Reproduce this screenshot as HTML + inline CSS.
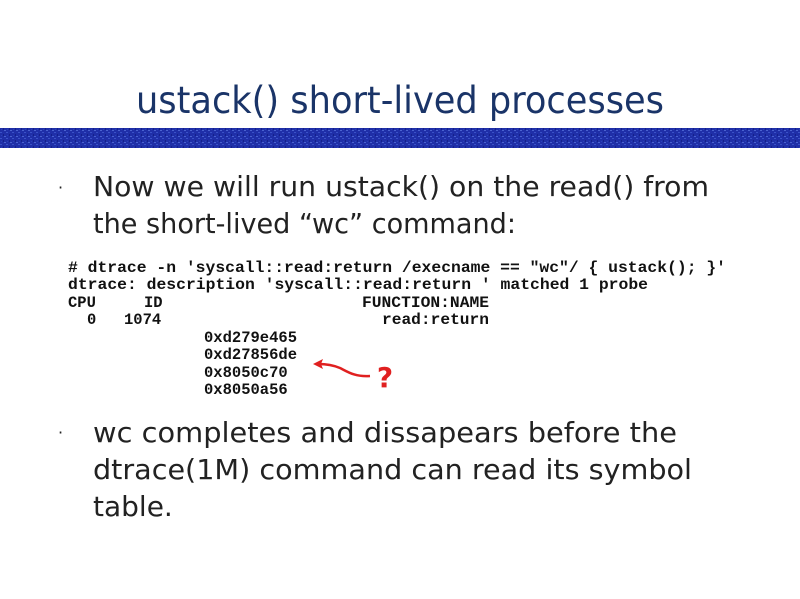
<!DOCTYPE html>
<html><head><meta charset="utf-8"><style>
html,body{margin:0;padding:0;background:#fff;width:800px;height:599px;overflow:hidden}
</style></head><body>
<svg width="800" height="599" viewBox="0 0 800 599" xmlns="http://www.w3.org/2000/svg">
<defs>
<pattern id="tex" width="6" height="6" patternUnits="userSpaceOnUse">
<rect width="6" height="6" fill="#1f2fa8"/>
<rect x="0" y="0" width="2" height="1" fill="#3a52c8"/>
<rect x="3" y="2" width="1" height="2" fill="#14208a"/>
<rect x="4" y="4" width="2" height="1" fill="#4a62d0"/>
<rect x="1" y="3" width="1" height="1" fill="#2a40b8"/>
</pattern>
</defs>
<text x="400" y="113" text-anchor="middle" font-family="DejaVu Sans Condensed, DejaVu Sans, sans-serif" font-size="37" fill="#1a3468" textLength="528" lengthAdjust="spacingAndGlyphs">ustack() short-lived processes</text>
<rect x="0" y="128" width="800" height="20" fill="url(#tex)"/>
<g font-family="DejaVu Sans, sans-serif" font-size="28" fill="#222">
<text x="58" y="193" font-size="16">·</text>
<text x="93" y="196" textLength="616" lengthAdjust="spacingAndGlyphs">Now we will run ustack() on the read() from</text>
<text x="93" y="233" textLength="423" lengthAdjust="spacingAndGlyphs">the short-lived “wc” command:</text>
<text x="58" y="438" font-size="16">·</text>
<text x="93" y="442" textLength="584" lengthAdjust="spacingAndGlyphs">wc completes and dissapears before the</text>
<text x="93" y="479" textLength="599" lengthAdjust="spacingAndGlyphs">dtrace(1M) command can read its symbol</text>
<text x="93" y="516">table.</text>
</g>
<g font-family="Liberation Mono, monospace" font-weight="bold" font-size="15.5" fill="#111" xml:space="preserve">
<text x="68" y="272" textLength="658" lengthAdjust="spacingAndGlyphs"># dtrace -n 'syscall::read:return /execname == "wc"/ { ustack(); }'</text>
<text x="68" y="289" textLength="580" lengthAdjust="spacingAndGlyphs">dtrace: description 'syscall::read:return ' matched 1 probe</text>
<text x="68" y="307">CPU</text><text x="144" y="307">ID</text><text x="362" y="307" textLength="127" lengthAdjust="spacingAndGlyphs">FUNCTION:NAME</text>
<text x="87" y="324">0</text><text x="124" y="324">1074</text><text x="382" y="324" textLength="107" lengthAdjust="spacingAndGlyphs">read:return</text>
<text x="204" y="342">0xd279e465</text>
<text x="204" y="359">0xd27856de</text>
<text x="204" y="377">0x8050c70</text>
<text x="204" y="394">0x8050a56</text>
</g>
<path d="M370 376 C355 377 348 372 340 368 C333 365 326 364 318 364" stroke="#e02020" stroke-width="2.5" fill="none"/>
<path d="M313 364 L323 359 L321 364 L323 369 Z" fill="#e02020"/>
<text x="385" y="387" text-anchor="middle" font-family="DejaVu Sans, sans-serif" font-weight="bold" font-size="28" fill="#e02020">?</text>
</svg>
</body></html>
